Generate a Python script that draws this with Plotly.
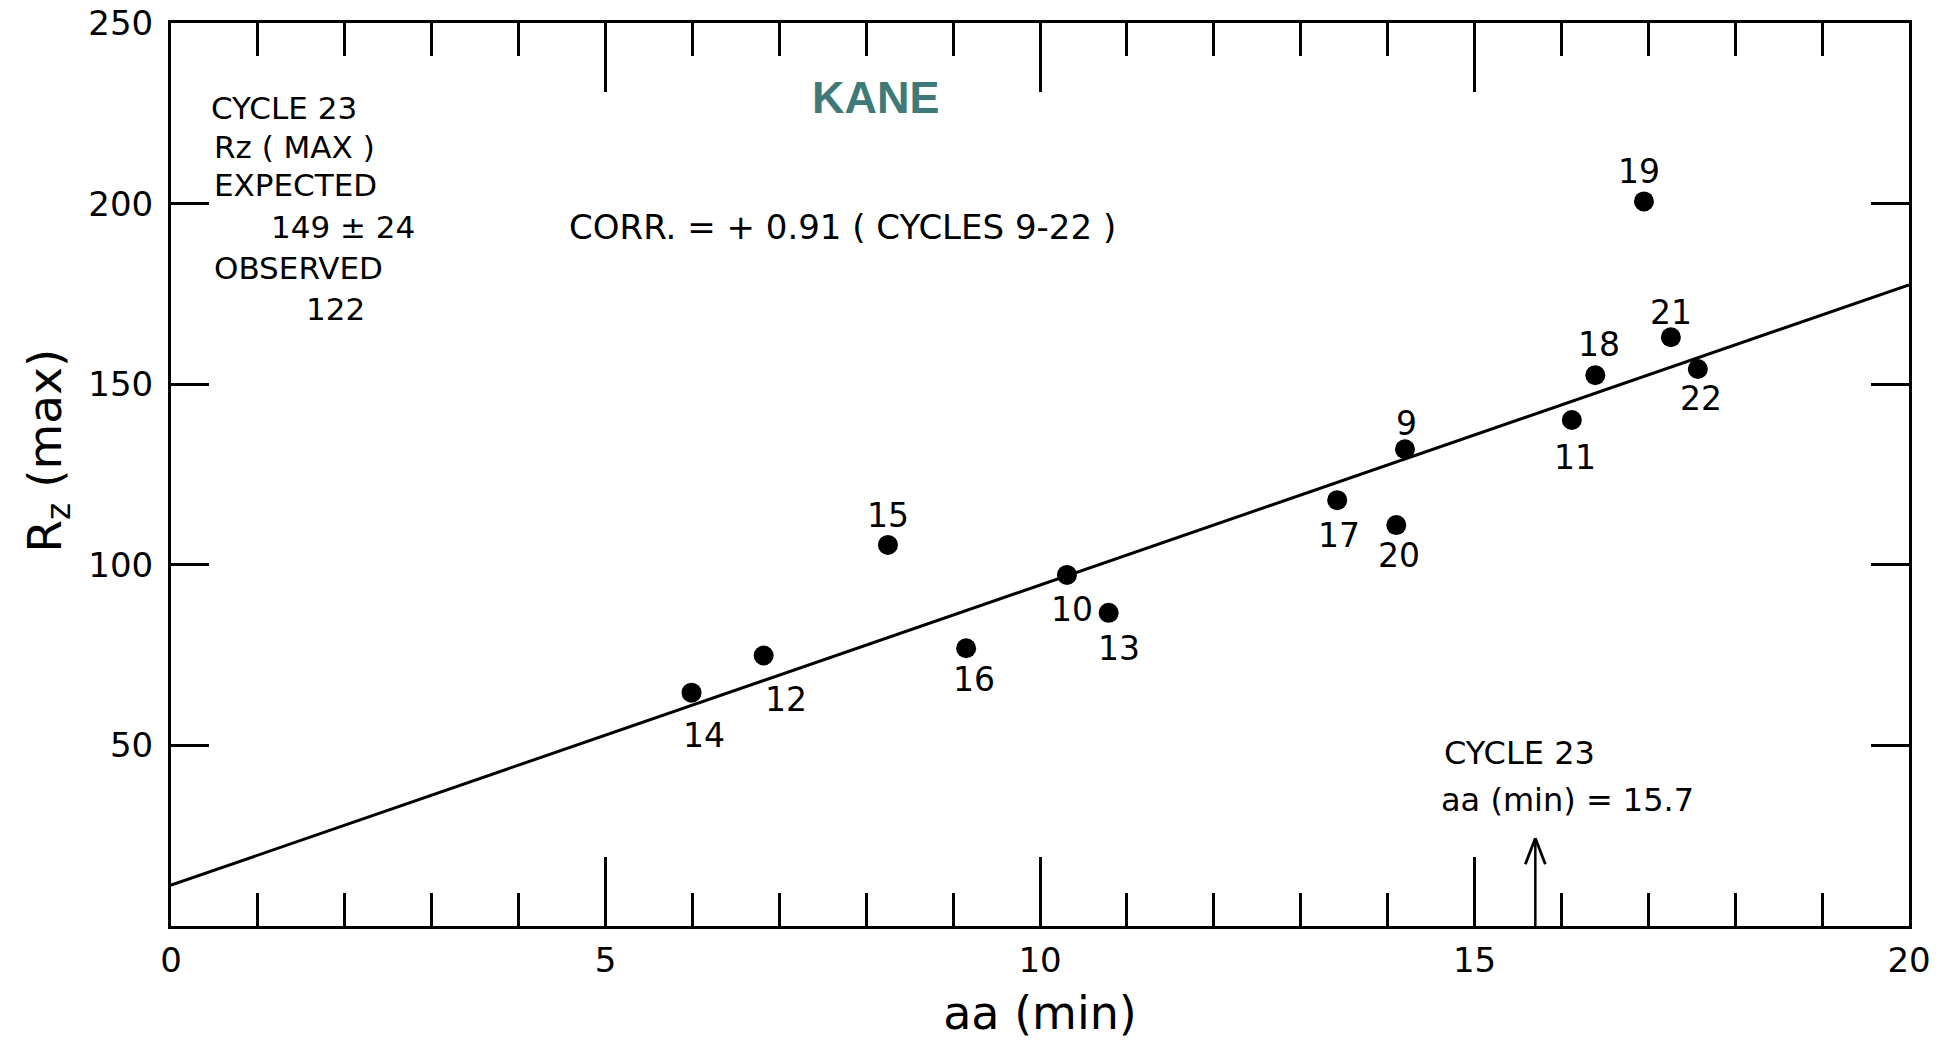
import plotly.graph_objects as go

# Solar cycles 9-22: geomagnetic aa minimum vs. sunspot maximum Rz(max)
cycles = [9, 10, 11, 12, 13, 14, 15, 16, 17, 18, 19, 20, 21, 22]
aa_min = [14.20, 10.31, 16.12, 6.82, 10.79, 5.99, 8.25, 9.15, 13.42, 16.39, 16.95, 14.10, 17.26, 17.57]
rz_max = [132.0, 97.2, 140.1, 74.9, 86.7, 64.6, 105.5, 76.9, 117.9, 152.5, 200.6, 111.0, 163.0, 154.2]

# Regression line end points
fit_aa = [0, 20]
fit_rz = [11.3, 177.5]

# Cycle 23 precursor value and the height of its arrow
cycle23_aa = 15.7
arrow_top = 24.3

x_ticks = [0, 5, 10, 15, 20]
y_ticks = [50, 100, 150, 200, 250]

FONT = "DejaVu Sans"
INK = "black"

# label placement around each dot, in pixels (dx right, dy down)
label_offsets = {
    9: (2, -26), 10: (5, 35), 11: (3, 38), 12: (22, 44), 13: (10, 36),
    14: (12, 43), 15: (0, -29), 16: (8, 31), 17: (2, 35), 18: (4, -31),
    19: (-5, -30), 20: (3, 30), 21: (0, -25), 22: (3, 29),
}

fig = go.Figure()

fig.add_trace(go.Scatter(
    x=fit_aa, y=fit_rz, mode="lines",
    line=dict(color=INK, width=3), hoverinfo="skip", showlegend=False,
))

fig.add_trace(go.Scatter(
    x=aa_min, y=rz_max, mode="markers",
    marker=dict(color=INK, size=20, line=dict(width=0)),
    text=[str(c) for c in cycles], showlegend=False,
))

annotations = []
for c, xv, yv in zip(cycles, aa_min, rz_max):
    dx, dy = label_offsets[c]
    annotations.append(dict(
        x=xv, y=yv, xref="x", yref="y", text=str(c), showarrow=False,
        xshift=dx, yshift=-dy, xanchor="center", yanchor="middle",
        font=dict(family=FONT, size=33, color=INK),
    ))

# Text block at upper left
block = [
    ("CYCLE 23", 0.44, 226.4, "left"),
    ("Rz ( MAX )", 0.47, 215.7, "left"),
    ("EXPECTED", 0.47, 205.2, "left"),
    ("149 ± 24", 1.98, 193.4, "center"),
    ("OBSERVED", 0.47, 182.3, "left"),
    ("122", 1.89, 170.7, "center"),
]
for txt, xv, yv, anchor in block:
    annotations.append(dict(
        x=xv, y=yv, xref="x", yref="y", text=txt, showarrow=False,
        xanchor=anchor, yanchor="middle",
        font=dict(family=FONT, size=31, color=INK),
    ))

annotations.append(dict(
    x=7.73, y=193.4, xref="x", yref="y",
    text="CORR. = + 0.91 ( CYCLES 9-22 )", showarrow=False,
    xanchor="center", yanchor="middle",
    font=dict(family=FONT, size=34, color=INK),
))

annotations.append(dict(
    x=8.11, y=229.4, xref="x", yref="y", text="<b>KANE</b>", showarrow=False,
    xanchor="center", yanchor="middle",
    font=dict(family="Liberation Sans", size=45, color="#3f7a78"),
))

# Cycle 23 label
annotations.append(dict(
    x=14.63, y=48.0, xref="x", yref="y", text="CYCLE 23", showarrow=False,
    xanchor="left", yanchor="middle",
    font=dict(family=FONT, size=32, color=INK),
))
annotations.append(dict(
    x=14.59, y=35.0, xref="x", yref="y", text=f"aa (min) = {cycle23_aa}", showarrow=False,
    xanchor="left", yanchor="middle",
    font=dict(family=FONT, size=32, color=INK),
))

# Rotated y-axis title
annotations.append(dict(
    x=-0.071, y=0.526, xref="paper", yref="paper",
    text="R<sub>z</sub> (max)", textangle=-90, showarrow=False,
    xanchor="center", yanchor="middle",
    font=dict(family=FONT, size=47, color=INK),
))

# Arrow pointing at the cycle 23 aa value: stem plus an open head
shapes = [
    dict(type="line", xref="x", yref="y", x0=cycle23_aa, x1=cycle23_aa, y0=0, y1=arrow_top,
         line=dict(color=INK, width=2.5)),
]
for side in (-1, 1):
    shapes.append(dict(
        type="line", xref="x", yref="y",
        xsizemode="pixel", ysizemode="pixel", xanchor=cycle23_aa, yanchor=arrow_top,
        x0=0, y0=0, x1=10 * side, y1=-26,
        line=dict(color=INK, width=2.8),
    ))

fig.update_layout(
    width=1959, height=1040,
    margin=dict(l=171, r=50, t=23, b=114, autoexpand=False),
    paper_bgcolor="white", plot_bgcolor="white",
    annotations=annotations, shapes=shapes,
    showlegend=False,
)

fig.update_xaxes(
    range=[0, 20], tickvals=x_ticks, ticktext=[str(v) for v in x_ticks],
    showline=True, linewidth=3, linecolor=INK, mirror="ticks",
    ticks="inside", ticklen=69, tickwidth=2.5, tickcolor=INK,
    minor=dict(dtick=1, tick0=0, ticks="inside", ticklen=33, tickwidth=2.5, tickcolor=INK),
    showgrid=False, zeroline=False, automargin=True,
    tickfont=dict(family=FONT, size=34, color=INK), ticklabelstandoff=2,
    title=dict(text="aa (min)", font=dict(family=FONT, size=46, color=INK), standoff=30),
)

fig.update_yaxes(
    range=[0, 250], tickvals=y_ticks, ticktext=[str(v) for v in y_ticks],
    showline=True, linewidth=3, linecolor=INK, mirror="ticks",
    ticks="inside", ticklen=38, tickwidth=2.5, tickcolor=INK,
    showgrid=False, zeroline=False, automargin=False,
    tickfont=dict(family=FONT, size=34, color=INK), ticklabelstandoff=8,
)

fig.write_html("out.html")
